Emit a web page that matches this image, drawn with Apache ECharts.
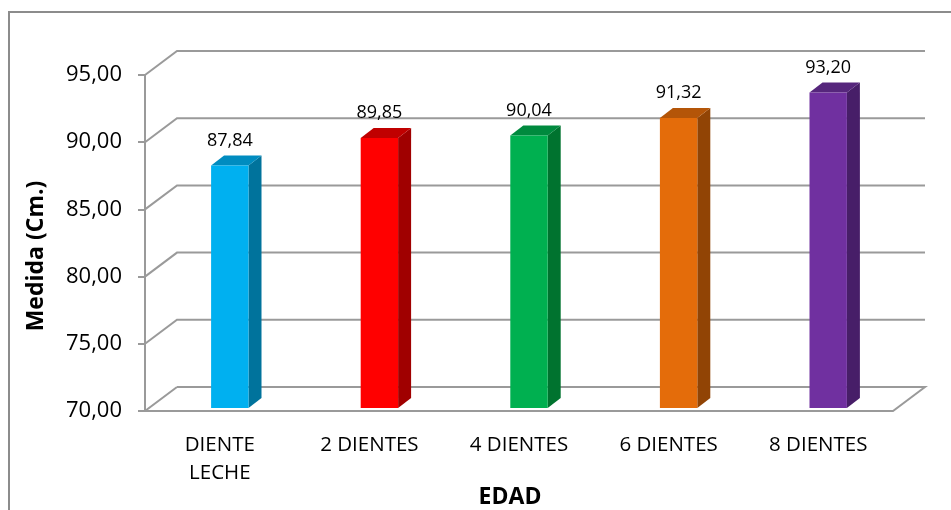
<!DOCTYPE html>
<html>
<head>
<meta charset="utf-8">
<script src="https://cdn.jsdelivr.net/npm/echarts@6/dist/echarts.min.js"></script>
<style>
  html, body { margin: 0; padding: 0; background: #ffffff; }
  #chart { width: 951px; height: 510px; }
</style>
</head>
<body>
<div id="chart"></div>
<script>
// Height by number of teeth
const categories = ['DIENTE\nLECHE', '2 DIENTES', '4 DIENTES', '6 DIENTES', '8 DIENTES'];
const values = [87.84, 89.85, 90.04, 91.32, 93.20];
const yTicks = [70, 75, 80, 85, 90, 95];

const frontColors = ['#00B0F0', '#FF0000', '#00B050', '#E46C0A', '#7030A0'];
const topColors   = ['#008CC0', '#C00000', '#008A3E', '#B45508', '#56267C'];
const sideColors  = ['#00739C', '#A00000', '#00732F', '#914405', '#471E68'];

const FONT = "'Open Sans', 'DejaVu Sans', sans-serif";
const GRID_COLOR = '#9a9a9a';
const DEPTH_X = 32, DEPTH_Y = -24;   // back wall offset
const BAR_DX = 13, BAR_DY = -10;     // bar depth

const fmt = v => v.toFixed(2).replace('.', ',');

const chart = echarts.init(document.getElementById('chart'), null, { renderer: 'canvas' });

chart.setOption({
  animation: false,
  backgroundColor: '#ffffff',
  grid: [
    // front plane: axis, ticks, labels
    { left: 145, top: 75, width: 748, height: 336 },
    // plane of the bar fronts
    { left: 155, top: 68, width: 748, height: 340 }
  ],
  xAxis: [
    {
      gridIndex: 0, type: 'category', data: categories,
      axisLine: { show: false }, axisTick: { show: false },
      axisLabel: { margin: 20, fontFamily: FONT, fontSize: 20.5, color: '#000', lineHeight: 28, interval: 0 }
    },
    {
      gridIndex: 1, type: 'category', data: categories, show: false
    }
  ],
  yAxis: [
    {
      gridIndex: 0, type: 'value', min: 70, max: 95, interval: 5,
      axisLine: { show: true, lineStyle: { color: GRID_COLOR, width: 2 } },
      axisTick: { show: true, length: 7, lineStyle: { color: GRID_COLOR, width: 2 } },
      splitLine: { show: false },
      axisLabel: { margin: 23, fontFamily: FONT, fontSize: 22, color: '#000', formatter: v => fmt(v) }
    },
    {
      gridIndex: 1, type: 'value', min: 70, max: 95, interval: 5, show: false,
      splitLine: { show: false }
    }
  ],
  series: [
    {
      // back wall and floor lines
      type: 'custom',
      xAxisIndex: 0, yAxisIndex: 0,
      data: yTicks.map(v => [0, v]),
      z: 1,
      renderItem: function (params, api) {
        const cs = params.coordSys;
        const v = api.value(1);
        const y = api.coord([0, v])[1];
        const x0 = cs.x, x1 = cs.x + cs.width;
        let pts;
        if (v === yTicks[0]) {
          pts = [[x0 + DEPTH_X, y + DEPTH_Y], [x0, y], [x1, y], [x1 + DEPTH_X, y + DEPTH_Y], [x0 + DEPTH_X, y + DEPTH_Y]];
        } else {
          pts = [[x0, y], [x0 + DEPTH_X, y + DEPTH_Y], [x1 + DEPTH_X, y + DEPTH_Y]];
        }
        return {
          type: 'polyline',
          shape: { points: pts },
          style: { stroke: GRID_COLOR, lineWidth: 2, fill: null }
        };
      }
    },
    {
      // 3D columns
      type: 'custom',
      xAxisIndex: 1, yAxisIndex: 1,
      data: values.map((v, i) => [i, v]),
      z: 5,
      renderItem: function (params, api) {
        const i = api.value(0);
        const v = api.value(1);
        const top = api.coord([i, v]);
        const base = api.coord([i, 70]);
        const w = api.size([1, 0])[0] * 0.25;
        const xl = top[0] - w / 2, xr = top[0] + w / 2;
        const yt = top[1], yb = base[1];
        return {
          type: 'group',
          children: [
            {
              type: 'polygon',
              shape: { points: [[xr, yt], [xr + BAR_DX, yt + BAR_DY], [xr + BAR_DX, yb + BAR_DY], [xr, yb]] },
              style: { fill: sideColors[i] }
            },
            {
              type: 'polygon',
              shape: { points: [[xl, yt], [xl + BAR_DX, yt + BAR_DY], [xr + BAR_DX, yt + BAR_DY], [xr, yt]] },
              style: { fill: topColors[i] }
            },
            {
              type: 'rect',
              shape: { x: xl, y: yt, width: w, height: yb - yt },
              style: { fill: frontColors[i] }
            },
            {
              type: 'text',
              style: {
                x: top[0], y: yt + BAR_DY - 15,
                text: fmt(v),
                fill: '#000', fontFamily: FONT, fontSize: 18,
                align: 'center', verticalAlign: 'middle'
              }
            }
          ]
        };
      }
    }
  ],
  graphic: [
    {
      type: 'rect', z: 0,
      shape: { x: 9, y: 12, width: 980, height: 540 },
      style: { fill: null, stroke: '#8c8c8c', lineWidth: 2 }
    },
    {
      type: 'text', z: 10,
      x: 36, y: 256, rotation: Math.PI / 2,
      style: {
        text: 'Medida (Cm.)', fontFamily: FONT, fontSize: 23, fontWeight: 'bold',
        fill: '#000', align: 'center', verticalAlign: 'middle'
      }
    },
    {
      type: 'text', z: 10,
      x: 510, y: 497,
      style: {
        text: 'EDAD', fontFamily: FONT, fontSize: 23, fontWeight: 'bold',
        fill: '#000', align: 'center', verticalAlign: 'middle'
      }
    }
  ]
});
</script>
</body>
</html>
